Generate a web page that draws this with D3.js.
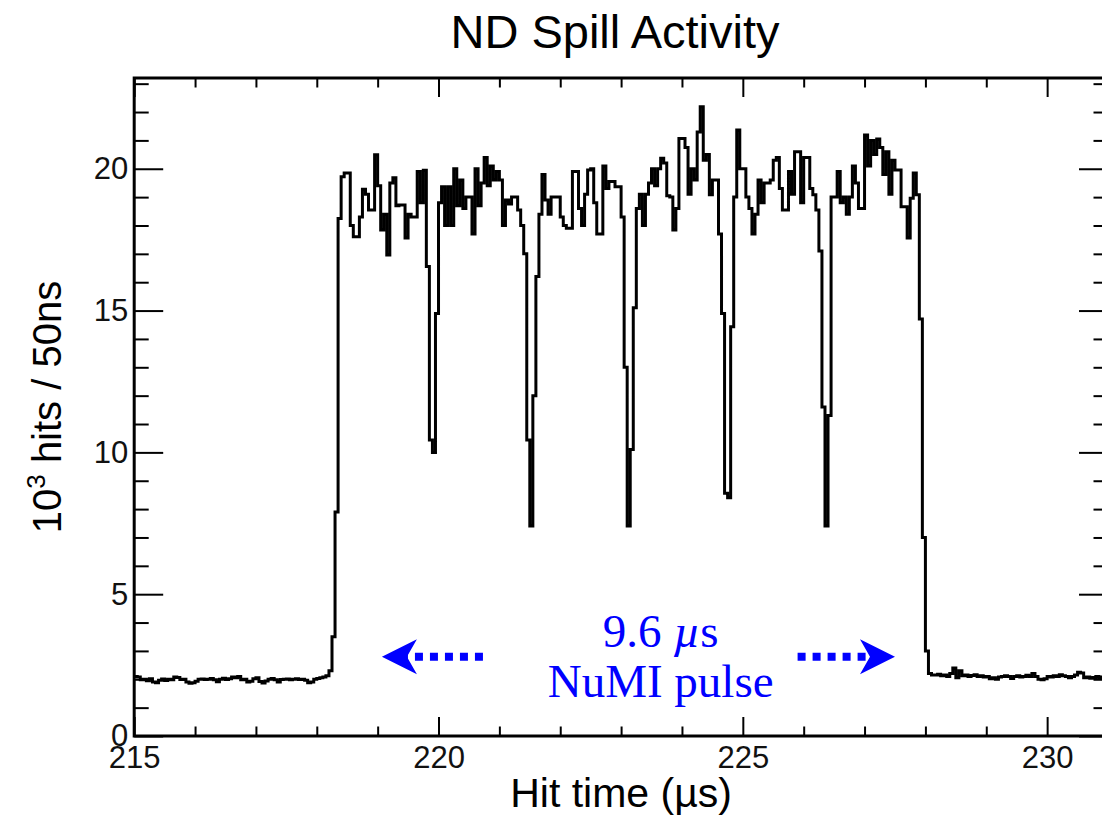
<!DOCTYPE html>
<html><head><meta charset="utf-8">
<script src="https://cdn.jsdelivr.net/npm/d3@7"></script>
<style>body{margin:0;background:#fff}</style>
</head><body>
<svg id="c" width="1102" height="818"></svg>
<script>
// ---- data ----
const binStart = 215;      // µs
const binWidth = 0.05;     // 50 ns
const baselineLeft = [2.1,2.08,1.98,2.0,1.95,2.02,1.9,1.88,1.97,2.01,1.96,2.0,1.98,2.08,2.06,1.99,2.0,1.9,1.86,1.88,
  1.93,2.0,2.01,1.99,2.0,2.03,1.98,1.91,2.0,2.04,1.99,2.02,2.08,2.05,2.1,1.98,2.0,1.9,1.93,2.02,
  2.05,1.92,1.87,1.94,2.0,2.03,1.98,1.9,1.99,2.0,2.01,1.98,2.0,2.02,1.99,2.0,1.97,1.88,1.9,2.0,
  2.03,2.05,2.08,2.12];
const spill = [2.3,3.5,7.9,18.25,19.72,19.85,19.85,18.0,17.6,17.6,18.3,19.28,19.1,18.55,18.55,20.49,19.4,17.84,18.4,16.96,
  19.5,19.68,18.7,18.72,18.72,17.56,18.4,18.3,18.3,19.9,18.8,19.95,16.55,10.44,10.0,14.9,18.8,19.37,18.0,19.37,
  18.0,20.0,18.7,19.6,18.6,19.0,19.0,17.7,20.0,18.7,19.5,20.4,19.4,20.1,19.6,19.9,19.6,18.0,18.9,18.76,
  19.0,19.0,18.55,18.0,17.0,10.44,7.4,12.0,16.2,18.4,19.8,18.9,18.4,19.0,19.0,19.0,18.3,18.0,17.9,17.9,
  19.9,19.9,18.6,18.0,19.1,19.96,20.0,18.8,17.7,17.7,20.1,19.3,19.55,19.55,19.37,19.37,18.3,13.0,7.4,10.1,
  15.1,18.6,19.1,18.0,19.1,19.5,20.0,19.4,20.0,20.37,20.2,19.05,19.0,17.84,18.6,21.07,21.07,20.75,19.1,20.0,
  19.6,21.3,22.19,20.3,20.5,19.08,19.6,19.6,17.7,14.9,8.56,8.4,14.43,19.0,21.37,20.0,20.0,19.0,18.6,17.7,
  18.4,19.6,18.8,19.5,19.5,19.6,20.3,20.4,19.3,18.55,18.55,19.9,19.1,20.6,20.6,18.8,20.4,20.4,19.3,19.08,
  18.55,17.1,11.6,7.4,11.3,19.0,19.0,19.9,18.8,19.0,18.4,19.0,20.1,19.5,18.6,18.6,21.19,20.1,21.0,20.5,
  21.05,20.75,19.8,20.6,19.1,20.3,19.96,19.96,18.66,18.66,17.56,18.96,19.85,19.08,14.7,7.0,3.0];
const baselineRight = [2.2,2.15,2.15,2.18,2.12,2.15,2.1,2.2,2.4,2.05,2.3,2.12,2.15,2.1,2.13,2.16,2.1,2.12,2.08,2.1,
  2.02,2.05,2.0,2.08,2.1,2.12,2.1,2.03,2.1,2.12,2.08,2.1,2.14,2.1,2.2,2.1,2.0,1.98,2.02,2.1,
  2.08,2.12,2.1,2.16,2.12,2.1,2.05,2.1,2.15,2.25,2.22,2.05,2.08,2.04,2.06,2.1,2.05,2.08,2.06];
const hitsK = baselineLeft.concat(spill, baselineRight);   // 10^3 hits per 50 ns bin

const xDomain = [215, 231];
const yDomain = [0, 23.2];
const xTicksMajor = [215, 220, 225, 230];
const xTicksMinor = d3.range(215, 232, 1);
const yTicksMajor = [0, 5, 10, 15, 20];
const yTicksMinor = d3.range(0, 24, 1);
const titleText = "ND Spill Activity";
const xLabel = "Hit time (\u00b5s)";
const annotLine1 = ["9.6 ", "\u00b5", "s"];
const annotLine2 = "NuMI pulse";
// arrow annotation in data coords: [tip, tail] (µs), at height (10^3 hits)
const arrowLeft = [219.07, 220.73];
const arrowRight = [227.5, 225.9];
const arrowLevel = 2.79;
const annotX = 223.65, annotY1 = 3.14, annotY2 = 1.38;

// ---- layout ----
const L = 134.2, R = 1108, T = 78, B = 736;
const svg = d3.select("#c");
svg.append("rect").attr("width",1102).attr("height",818).attr("fill","#fff");
const x = d3.scaleLinear().domain(xDomain).range([L, R]);
const y = d3.scaleLinear().domain(yDomain).range([B, T]);
const sans = "'Liberation Sans', Arial, Helvetica, sans-serif";
const serif = "'Liberation Serif', 'Times New Roman', serif";

svg.append("defs").append("clipPath").attr("id","fr")
  .append("rect").attr("x",L).attr("y",T).attr("width",R-L).attr("height",B-T);

// histogram
const pts = hitsK.map((v,i)=>[binStart + i*binWidth, v]);
pts.push([binStart + hitsK.length*binWidth, hitsK[hitsK.length-1]]);
const line = d3.line().x(d=>x(d[0])).y(d=>y(d[1])).curve(d3.curveStepAfter);
svg.append("path").attr("clip-path","url(#fr)").attr("d", line(pts))
  .attr("fill","none").attr("stroke","#000").attr("stroke-width",3)
  .attr("stroke-linejoin","miter");

// axes ticks
function styleAxis(g){
  g.select(".domain").remove();
  g.selectAll(".tick line").attr("stroke","#000").attr("stroke-width",2);
  g.selectAll(".tick text").attr("font-family",sans).attr("font-size",31).attr("fill","#111");
}
const xMinor = xTicksMinor.filter(v=>!xTicksMajor.includes(v));
const yMinor = yTicksMinor.filter(v=>!yTicksMajor.includes(v));
svg.append("g").attr("transform",`translate(0,${B})`)
  .call(d3.axisBottom(x).tickValues(xMinor).tickSize(-9.5).tickFormat("")).call(styleAxis);
svg.append("g").attr("transform",`translate(0,${B})`)
  .call(d3.axisBottom(x).tickValues(xTicksMajor).tickSize(-19).tickPadding(10).tickFormat(d3.format("d"))).call(styleAxis);
svg.append("g").attr("transform",`translate(0,${T})`)
  .call(d3.axisTop(x).tickValues(xMinor).tickSize(-9.5).tickFormat("")).call(styleAxis);
svg.append("g").attr("transform",`translate(0,${T})`)
  .call(d3.axisTop(x).tickValues(xTicksMajor).tickSize(-19).tickFormat("")).call(styleAxis);
svg.append("g").attr("transform",`translate(${L},0)`)
  .call(d3.axisLeft(y).tickValues(yMinor).tickSize(-14.5).tickFormat("")).call(styleAxis);
svg.append("g").attr("transform",`translate(${L},0)`)
  .call(d3.axisLeft(y).tickValues(yTicksMajor).tickSize(-29).tickPadding(6).tickFormat(d3.format("d"))).call(styleAxis);
svg.append("g").attr("transform",`translate(${R},0)`)
  .call(d3.axisRight(y).tickValues(yMinor).tickSize(-14.5).tickFormat("")).call(styleAxis);
svg.append("g").attr("transform",`translate(${R},0)`)
  .call(d3.axisRight(y).tickValues(yTicksMajor).tickSize(-29).tickFormat("")).call(styleAxis);

// frame
svg.append("rect").attr("x",L).attr("y",T).attr("width",R-L).attr("height",B-T)
  .attr("fill","none").attr("stroke","#000").attr("stroke-width",3);

// title & labels
svg.append("text").attr("x",615).attr("y",48).attr("text-anchor","middle")
  .attr("font-family",sans).attr("font-size",47).attr("fill","#000").text(titleText);
svg.append("text").attr("x",(L+R)/2).attr("y",807).attr("text-anchor","middle")
  .attr("font-family",sans).attr("font-size",41).attr("fill","#000").text(xLabel);
const yl = svg.append("text").attr("transform",`translate(61,${(T+B)/2}) rotate(-90)`)
  .attr("text-anchor","middle").attr("font-family",sans).attr("font-size",40).attr("fill","#000");
yl.append("tspan").text("10");
yl.append("tspan").attr("font-size",26).attr("dy",-16).text("3");
yl.append("tspan").attr("dy",16).text(" hits / 50ns");

// annotation
const blue = "#0000ff";
const t1 = svg.append("text").attr("x",x(annotX)).attr("y",y(annotY1)).attr("text-anchor","middle")
  .attr("font-family",serif).attr("font-size",47).attr("fill",blue);
t1.append("tspan").text(annotLine1[0]);
t1.append("tspan").attr("font-style","italic").text(annotLine1[1]);
t1.append("tspan").text(annotLine1[2]);
svg.append("text").attr("x",x(annotX)).attr("y",y(annotY2)).attr("text-anchor","middle")
  .attr("font-family",serif).attr("font-size",47).attr("fill",blue).text(annotLine2);

function arrow([tip, tail]){
  const xt = x(tip), xe = x(tail), yy = y(arrowLevel);
  const dir = Math.sign(xe - xt); // direction from tip to tail
  svg.append("line").attr("x1",xe).attr("x2",xt + dir*24).attr("y1",yy).attr("y2",yy)
    .attr("stroke",blue).attr("stroke-width",8).attr("stroke-dasharray","8 7");
  const hl = 35, hw = 17.5, notch = 10;
  const p = [[xt,yy],[xt+dir*hl,yy-hw],[xt+dir*(hl-notch),yy],[xt+dir*hl,yy+hw]];
  svg.append("path").attr("d","M"+p.map(q=>q.join(",")).join("L")+"Z").attr("fill",blue);
}
arrow(arrowLeft);
arrow(arrowRight);
</script>
</body></html>
